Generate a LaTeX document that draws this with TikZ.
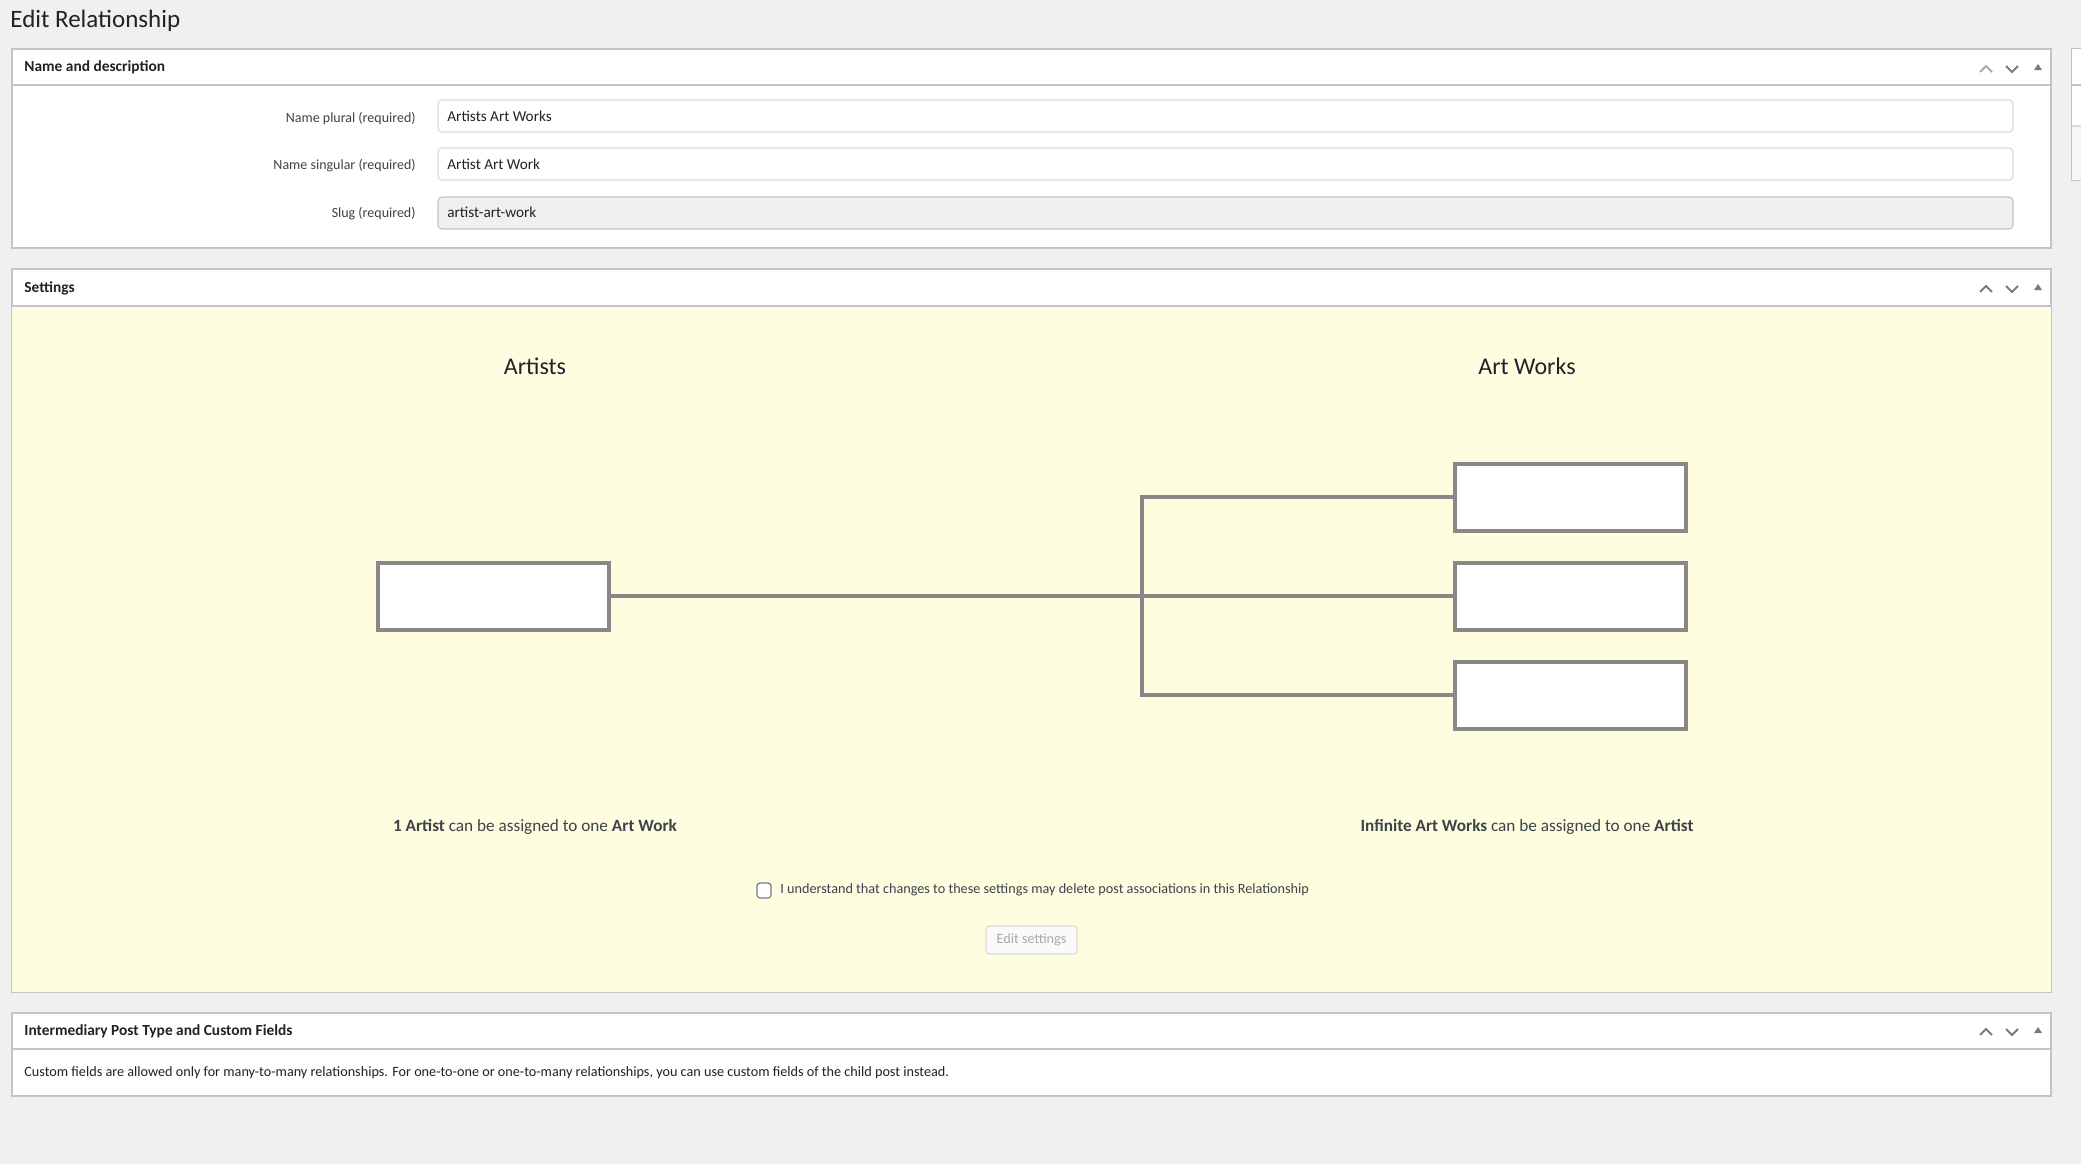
\documentclass[tikz,border=0pt]{standalone}
\usepackage{fontspec}
\setmainfont{Carlito}
\usetikzlibrary{positioning,calc}
\definecolor{pagebg}{HTML}{F0F0F1}
\definecolor{panelline}{HTML}{C3C4C7}
\definecolor{fieldline}{HTML}{DCDCDE}
\definecolor{settingsbg}{HTML}{FEFDE0}
\definecolor{diagramgray}{HTML}{888888}
\definecolor{textdark}{HTML}{1D2327}
\definecolor{textlabel}{HTML}{3C434A}
\definecolor{icongray}{HTML}{787C82}
\definecolor{iconlight}{HTML}{A7AAAD}
\tikzset{
  panel/.style={draw=panelline, fill=white, line width=0.6pt},
  headtext/.style={anchor=west, inner sep=0pt, text=textdark, font=\fontsize{7.7}{9}\selectfont\bfseries},
  labeltext/.style={anchor=east, inner sep=0pt, text=textlabel, font=\fontsize{7}{8}\selectfont},
  fieldtext/.style={anchor=west, inner sep=0pt, text=textdark, font=\fontsize{7.1}{8}\selectfont},
  field/.style={draw=fieldline, fill=white, line width=0.6pt, rounded corners=2pt},
  postbox/.style={draw=diagramgray, fill=white, line width=2pt, minimum width=115.5pt, minimum height=33.5pt, inner sep=0pt, outer sep=0pt},
  link/.style={draw=diagramgray, line width=2pt},
  sidetitle/.style={inner sep=0pt, text=textdark, font=\fontsize{12}{14}\selectfont},
  caption/.style={inner sep=0pt, text=textlabel, font=\fontsize{8.6}{10}\selectfont}
}
\begin{document}
\begin{tikzpicture}[x=0.5pt,y=-0.5pt]
\useasboundingbox (0,0) rectangle (2081,1164);
\fill[pagebg] (0,0) rectangle (2081,1164);
\node[anchor=west, inner sep=0pt, text=textdark, font=\fontsize{12.5}{15}\selectfont] (title) at (10,21) {Edit Relationship};
\draw[panel] (2081,49) -- (2072,49) -- (2072,180) -- (2081,180);
\fill[white] (2072.3,49.3) rectangle (2081,126);
\fill[black!3] (2072.3,126) rectangle (2081,179.7);
\draw[panelline, line width=0.6pt] (2072,85) -- (2081,85);
\draw[panelline!60, line width=0.6pt] (2072,126) -- (2081,126);
\draw[panel] (12,49) rectangle (2051,248);
\draw[panelline, line width=0.6pt] (12,85) -- (2051,85);
\node[headtext] (namehead) at (24,67) {Name and description};
\node[labeltext] (plurallabel) at (416,118) {Name plural (required)};
\node[labeltext] (singularlabel) at (416,166) {Name singular (required)};
\node[labeltext] (sluglabel) at (416,214) {Slug (required)};
\draw[field] (438,100) rectangle (2013,132);
\draw[field] (438,148) rectangle (2013,180);
\draw[field, fill=pagebg, draw=panelline] (438,197) rectangle (2013,229);
\node[fieldtext, font=\fontsize{7.6}{9}\selectfont] (pluralvalue) at (447,116) {Artists Art Works};
\node[fieldtext, font=\fontsize{7.6}{9}\selectfont] (singularvalue) at (447,164) {Artist Art Work};
\node[fieldtext, font=\fontsize{7.6}{9}\selectfont] (slugvalue) at (447,212) {artist-art-work};
\draw[panel] (12,269) rectangle (2051,992);
\fill[settingsbg] (12.3,306) rectangle (2050.7,991.7);
\draw[panelline, line width=0.6pt] (12,306) -- (2051,306);
\node[headtext] (settingshead) at (24,288) {Settings};
\node[sidetitle] (artists) at (535,366) {Artists};
\node[sidetitle] (artworks) at (1527,366) {Art Works};
\node[postbox] (artistbox) at (493.5,596) {};
\node[postbox] (workbox1) at (1570,497) {};
\node[postbox] (workbox2) at (1570,596) {};
\node[postbox] (workbox3) at (1570,695) {};
\coordinate (bus) at (1142,596);
\draw[link] (artistbox.east) -- (workbox2.west);
\draw[link] (workbox1.west) -- (workbox1.west -| bus) -- (workbox3.west -| bus) -- (workbox3.west);
\node[caption] (artistcaption) at (535,827) {\textbf{1 Artist} can be assigned to one \textbf{Art Work}};
\node[caption] (workcaption) at (1527,827) {\textbf{Infinite Art Works} can be assigned to one \textbf{Artist}};
\draw[draw=icongray, fill=white, line width=0.6pt, rounded corners=1.5pt] (757,883) rectangle (771,898);
\node[fieldtext, text=textlabel] (confirm) at (780,890) {I understand that changes to these settings may delete post associations in this Relationship};
\node[draw=fieldline, fill=black!2, line width=0.6pt, rounded corners=1.5pt, minimum width=45.5pt, minimum height=14pt, inner sep=0pt, text=iconlight, font=\fontsize{7.1}{8}\selectfont] (editbutton) at (1031.5,940) {Edit settings};
\draw[panel] (12,1013) rectangle (2051,1096);
\draw[panelline, line width=0.6pt] (12,1049) -- (2051,1049);
\node[headtext] (intermediaryhead) at (24,1031) {Intermediary Post Type and Custom Fields};
\node[fieldtext] (intermediarynote) at (24,1073) {Custom fields are allowed only for many-to-many relationships. For one-to-one or one-to-many relationships, you can use custom fields of the child post instead.};
\draw[iconlight, line width=1pt] (1980,72) -- (1986,66) -- (1992,72);
\draw[icongray, line width=1pt] (2006,66) -- (2012,72) -- (2018,66);
\fill[icongray] (2034,70) -- (2038,64) -- (2042,70) -- cycle;
\draw[icongray, line width=1pt] (1980,292) -- (1986,286) -- (1992,292);
\draw[icongray, line width=1pt] (2006,286) -- (2012,292) -- (2018,286);
\fill[icongray] (2034,290) -- (2038,284) -- (2042,290) -- cycle;
\draw[icongray, line width=1pt] (1980,1035) -- (1986,1029) -- (1992,1035);
\draw[icongray, line width=1pt] (2006,1029) -- (2012,1035) -- (2018,1029);
\fill[icongray] (2034,1033) -- (2038,1027) -- (2042,1033) -- cycle;
\end{tikzpicture}
\end{document}
